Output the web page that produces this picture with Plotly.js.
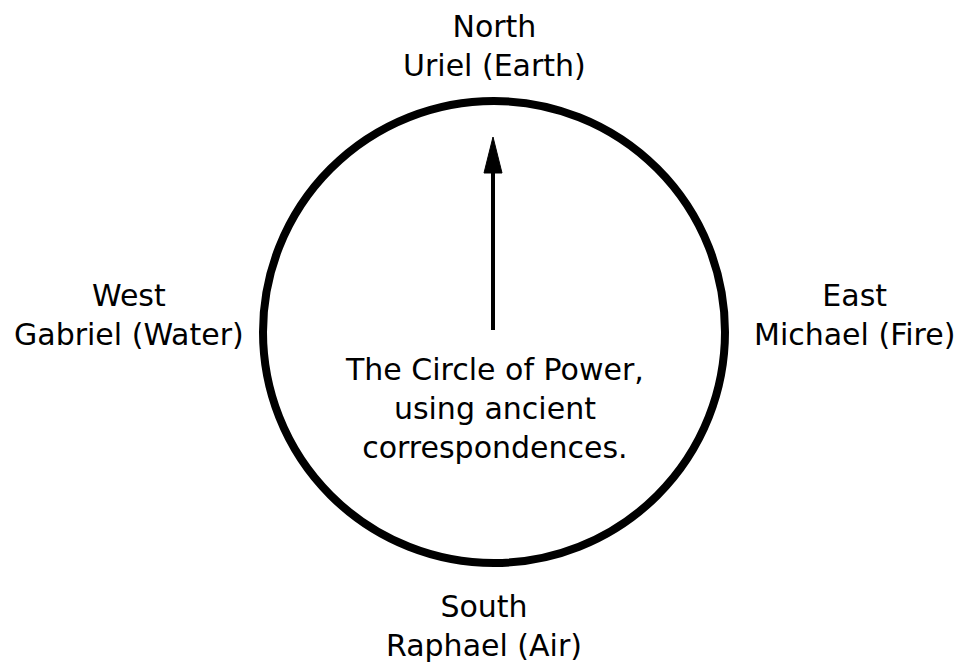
<!DOCTYPE html>
<html>
<head>
<meta charset="utf-8">
<script src="https://cdn.plot.ly/plotly-3.0.1.min.js"></script>
<style>html,body{margin:0;padding:0;background:#fff;}#chart{width:960px;height:664px;}</style>
</head>
<body>
<div id="chart"></div>
<script>
// Diagram content
const directions = ["North", "East", "South", "West"];
const angels = ["Uriel", "Michael", "Raphael", "Gabriel"];
const elements = ["Earth", "Fire", "Air", "Water"];
const centerText = ["The Circle of Power,", "using ancient", "correspondences."];

// Layout geometry (pixels, y downwards)
const CX = 494, CY = 332, R = 231;
const labelPos = {
  North: [494, 46],
  East:  [854, 315],
  South: [484, 626],
  West:  [129, 315]
};
const centerPos = [494, 408];
const arrow = {x: 493, yBottom: 330, yTip: 137, headLen: 36, headHalfW: 9, width: 4};

const FONT = {family: "DejaVu Sans, Verdana, sans-serif", size: 30, color: "#000"};

const annotations = directions.map((d, i) => ({
  x: labelPos[d][0], y: labelPos[d][1], xref: "x", yref: "y",
  text: d + "<br>" + angels[i] + " (" + elements[i] + ")",
  showarrow: false, xanchor: "center", yanchor: "middle", align: "center",
  font: FONT
}));
annotations.push({
  x: centerPos[0], y: centerPos[1], xref: "x", yref: "y",
  text: centerText.join("<br>"), showarrow: false,
  xanchor: "center", yanchor: "middle", align: "center", font: FONT
});

const headBase = arrow.yTip + arrow.headLen;
const shapes = [
  {type: "circle", xref: "x", yref: "y", x0: CX - R, x1: CX + R, y0: CY - R, y1: CY + R,
   line: {color: "#000", width: 8}, fillcolor: "rgba(0,0,0,0)"},
  {type: "line", xref: "x", yref: "y", x0: arrow.x, x1: arrow.x, y0: arrow.yBottom, y1: headBase - 2,
   line: {color: "#000", width: arrow.width}},
  {type: "path", xref: "x", yref: "y",
   path: `M ${arrow.x},${arrow.yTip} L ${arrow.x - arrow.headHalfW},${headBase} L ${arrow.x + arrow.headHalfW},${headBase} Z`,
   fillcolor: "#000", line: {color: "#000", width: 1}}
];

const layout = {
  width: 960, height: 664,
  margin: {l: 0, r: 0, t: 0, b: 0},
  paper_bgcolor: "#fff", plot_bgcolor: "#fff",
  showlegend: false,
  xaxis: {range: [0, 960], visible: false, fixedrange: true},
  yaxis: {range: [664, 0], visible: false, fixedrange: true},
  annotations: annotations,
  shapes: shapes
};

Plotly.newPlot("chart", [{x: [], y: [], type: "scatter", mode: "markers", hoverinfo: "skip"}], layout, {staticPlot: true, displayModeBar: false});
</script>
</body>
</html>
